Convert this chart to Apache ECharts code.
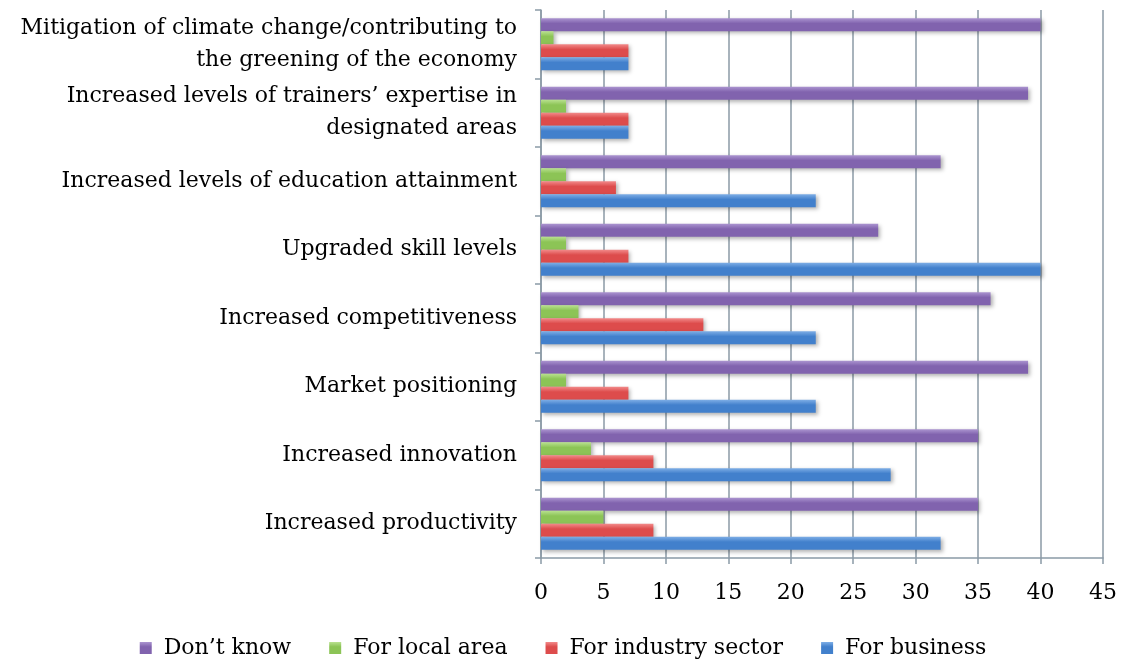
<!DOCTYPE html>
<html>
<head>
<meta charset="utf-8">
<script src="https://cdn.jsdelivr.net/npm/echarts@6/dist/echarts.min.js"></script>
<style>
  html, body { margin: 0; padding: 0; background: #fff; }
  #chart { width: 1126px; height: 662px; }
</style>
</head>
<body>
<div id="chart"></div>
<script>
// categories, bottom to top
const categories = [
  'Increased productivity',
  'Increased innovation',
  'Market positioning',
  'Increased competitiveness',
  'Upgraded skill levels',
  'Increased levels of education attainment',
  'Increased levels of trainers\u2019 expertise in\ndesignated areas',
  'Mitigation of climate change/contributing to\nthe greening of the economy'
]
const forBusiness = [32, 28, 22, 22, 40, 22, 7, 7]
const forIndustry = [9, 9, 7, 13, 7, 6, 7, 7]
const forLocal = [5, 4, 2, 3, 2, 2, 2, 1]
const dontKnow = [35, 35, 39, 36, 27, 32, 39, 40]
const legendOrder = ['Don\u2019t know', 'For local area', 'For industry sector', 'For business']

const serif = '"DejaVu Serif", "Liberation Serif", serif'

function grad( light, dark ) {
  return new echarts.graphic.LinearGradient( 0, 0, 0, 1, [
    { offset : 0, color : light },
    { offset : 0.4, color : dark },
    { offset : 1, color : dark }
  ] )
}

function makeSeries( name, data, light, dark ) {
  return {
    name : name,
    type : 'bar',
    data : data,
    barGap : '0%',
    barWidth : 13,
    itemStyle : {
      color : grad( light, dark ),
      shadowColor : 'rgba(0,0,0,0.3)',
      shadowBlur : 4,
      shadowOffsetX : 2,
      shadowOffsetY : 2
    }
  }
}

const chart = echarts.init( document.getElementById( 'chart' ) )
chart.setOption( {
  backgroundColor : '#ffffff',
  animation : false,
  color : ['#8c6cb8', '#93cc62', '#e25b5b', '#4f86cf'],
  grid : {
    left : 541,
    right : 23,
    top : 10,
    bottom : 104
  },
  legend : {
    data : legendOrder,
    top : 632,
    left : 'center',
    icon : 'rect',
    itemWidth : 12,
    itemHeight : 12,
    itemGap : 38,
    textStyle : {
      fontFamily : serif,
      fontSize : 22,
      color : '#000',
      padding : [0, 0, 0, 7]
    }
  },
  xAxis : {
    type : 'value',
    min : 0,
    max : 45,
    interval : 5,
    axisLine : { show : true, lineStyle : { color : '#8b9aa6', width : 1.5 } },
    axisTick : { show : true, length : 6, lineStyle : { color : '#8b9aa6', width : 1.5 } },
    axisLabel : {
      margin : 24,
      fontFamily : serif,
      fontSize : 22,
      color : '#000'
    },
    splitLine : { show : true, lineStyle : { color : '#8b9aa6', width : 1.5 } }
  },
  yAxis : {
    type : 'category',
    data : categories,
    axisLine : { show : true, lineStyle : { color : '#8b9aa6', width : 1.5 } },
    axisTick : { show : true, length : 6, lineStyle : { color : '#8b9aa6', width : 1.5 } },
    axisLabel : {
      margin : 24,
      fontFamily : serif,
      fontSize : 22,
      lineHeight : 32,
      color : '#000'
    }
  },
  series : [
    makeSeries( 'Don\u2019t know', dontKnow, '#ab94d0', '#8163ae' ),
    makeSeries( 'For local area', forLocal, '#b9e190', '#8cc456' ),
    makeSeries( 'For industry sector', forIndustry, '#f28a8a', '#dd4c4c' ),
    makeSeries( 'For business', forBusiness, '#7eaee6', '#4280cc' )
  ]
} )
</script>
</body>
</html>
